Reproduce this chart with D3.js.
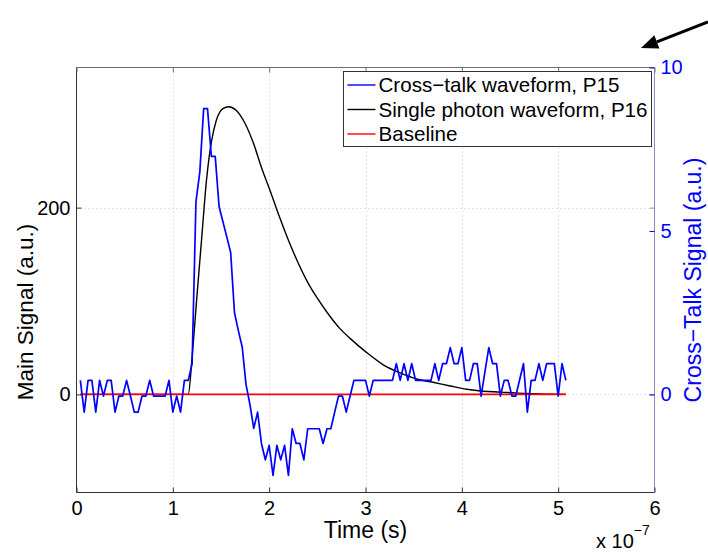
<!DOCTYPE html>
<html>
<head>
<meta charset="utf-8">
<script src="https://cdn.jsdelivr.net/npm/d3@7"></script>
<style>
  body { margin: 0; background: #fff; }
  svg { font-family: "Liberation Sans", Arial, Helvetica, sans-serif; }
</style>
</head>
<body>
<svg id="chart" width="708" height="556"></svg>
<script>
// ---- data (time in units of 1e-7 s) ----
const timeTicks = [0, 1, 2, 3, 4, 5, 6]
const mainTicks = [0, 200]
const crossTicks = [0, 5, 10]
const timeDomain = [0, 6]
const mainDomain = [-105, 350]
const crossDomain = [-3, 10]

// cross-talk waveform P15, sampled every 4 ns starting at 4 ns (right axis)
const crossStart = 0.04
const crossStep = 0.04
const crossTalk = [
  0.43, -0.54, 0.43, 0.43, -0.54, 0.43, -0.05, 0.43, 0.43, -0.54,
  -0.05, -0.05, 0.43, -0.05, -0.54, -0.54, -0.05, -0.05, 0.43, -0.05,
  -0.05, -0.05, -0.05, 0.43, -0.54, -0.05, -0.54, 0.43, 0.43, 0.94,
  5.9, 6.8, 8.74, 8.74, 7.28, 7.28, 5.75, 5.28, 4.82, 4.35,
  2.5, 1.95, 1.45, 0.3, -0.3, -1.04, -0.54, -1.5, -2.0, -1.56,
  -2.48, -1.56, -2.0, -1.56, -2.48, -1.05, -1.5, -1.5, -2.0, -1.05,
  -1.05, -1.05, -1.05, -1.5, -1.05, -1.05, -0.54, -0.05, -0.05, -0.54,
  -0.05, 0.43, 0.43, 0.43, 0.43, -0.05, 0.43, 0.43, 0.43, 0.43,
  0.43, 0.43, 0.94, 0.43, 0.94, 0.43, 0.94, 0.43, 0.43, 0.43,
  0.43, 0.43, 0.94, 0.43, 0.94, 0.94, 1.43, 0.94, 0.94, 1.43,
  0.43, 0.43, 0.94, 0.94, -0.05, 0.7, 1.43, 0.94, 0.94, -0.05,
  0.43, 0.43, -0.05, -0.05, 0.45, 0.94, -0.54, 0.43, 0.43, 0.94,
  0.43, 0.94, 0.94, 0.94, -0.05, 0.94, 0.43
]

// single photon waveform P16 (left axis)
const photonTime = [0.04, 1.16, 1.20, 1.25, 1.30, 1.35, 1.40, 1.45, 1.52, 1.58,
  1.66, 1.75, 1.84, 1.92, 2.01, 2.10, 2.20, 2.30, 2.40, 2.50,
  2.60, 2.73, 2.84, 3.01, 3.18, 3.36, 3.53, 3.70, 3.88, 4.05,
  4.22, 4.40, 4.57, 4.74, 4.98, 5.08]
const photonSignal = [0, 0, 40, 105, 168, 230, 270, 293, 306, 308,
  304, 290, 268, 243, 218, 192, 165, 141, 120, 103,
  88, 71, 60, 45, 32, 23, 16.5, 13, 9, 5.5,
  3.4, 2.5, 1.4, 0.7, 0.2, 0]

// baseline (left axis)
const baselineTime = [0.04, 5.08]
const baselineValue = [0, 0]

const legendLabels = ['Cross\u2212talk waveform, P15', 'Single photon waveform, P16', 'Baseline']
const legendColors = ['#0000ff', '#000000', '#ff0000']

// ---- layout ----
const svg = d3.select('#chart')
const plotLeft = 76.5, plotRight = 654.5, plotTop = 67.5, plotBottom = 492.5

const x = d3.scaleLinear().domain(timeDomain).range([plotLeft, plotRight])
const yMain = d3.scaleLinear().domain(mainDomain).range([plotBottom, plotTop])
const yCross = d3.scaleLinear().domain(crossDomain).range([plotBottom, plotTop])

// grid
svg.append('g').selectAll('line')
    .data(timeTicks.slice(1, -1))
    .enter().append('line')
    .attr('x1', d=>Math.round(x(d))+0.5).attr('x2', d=>Math.round(x(d))+0.5)
    .attr('y1', plotTop).attr('y2', plotBottom)
    .style('stroke', '#c8c8c8').style('stroke-dasharray', '1,3')
svg.append('g').selectAll('line')
    .data(mainTicks)
    .enter().append('line')
    .attr('x1', plotLeft).attr('x2', plotRight)
    .attr('y1', d=>Math.round(yMain(d))+0.5).attr('y2', d=>Math.round(yMain(d))+0.5)
    .style('stroke', '#c8c8c8').style('stroke-dasharray', '1,3')

// lines
const photonLine = d3.line()
    .x((d,i)=>x(photonTime[i]))
    .y(d=>yMain(d))
    .curve(d3.curveMonotoneX)
svg.append('path')
    .attr('d', photonLine(photonSignal))
    .style('fill', 'none').style('stroke', '#000').style('stroke-width', 1.4)

const baseLine = d3.line()
    .x((d,i)=>x(baselineTime[i]))
    .y(d=>yMain(d))
svg.append('path')
    .attr('d', baseLine(baselineValue))
    .style('fill', 'none').style('stroke', '#ff0000').style('stroke-width', 1.6)

const crossLine = d3.line()
    .x((d,i)=>x(crossStart + i*crossStep))
    .y(d=>yCross(d))
svg.append('path')
    .attr('d', crossLine(crossTalk))
    .style('fill', 'none').style('stroke', '#0000ff').style('stroke-width', 1.7)
    .style('stroke-linejoin', 'round')

// axes box
svg.append('line').attr('x1', plotLeft).attr('x2', plotRight).attr('y1', plotTop).attr('y2', plotTop)
    .style('stroke', '#6e6e6e')
svg.append('line').attr('x1', plotLeft).attr('x2', plotRight).attr('y1', plotBottom).attr('y2', plotBottom)
    .style('stroke', '#333')
svg.append('line').attr('x1', plotLeft).attr('x2', plotLeft).attr('y1', plotTop).attr('y2', plotBottom)
    .style('stroke', '#333')
svg.append('line').attr('x1', plotRight).attr('x2', plotRight).attr('y1', plotTop).attr('y2', plotBottom)
    .style('stroke', '#8a8ac8')

// x axis
const xAxis = d3.axisBottom(x).tickValues(timeTicks).tickSize(-5).tickPadding(8).tickFormat(d3.format('d'))
const gx = svg.append('g').attr('transform', `translate(0,${plotBottom})`).call(xAxis)
gx.select('.domain').remove()
gx.selectAll('line').style('stroke', '#333')
gx.selectAll('text').style('font-size', '20px').style('fill', '#000')

const xTop = d3.axisTop(x).tickValues(timeTicks).tickSize(-5).tickFormat('')
const gxt = svg.append('g').attr('transform', `translate(0,${plotTop})`).call(xTop)
gxt.select('.domain').remove()
gxt.selectAll('line').style('stroke', '#6e6e6e')

// left axis
const yAxis = d3.axisLeft(yMain).tickValues(mainTicks).tickSize(-5).tickPadding(6)
const gy = svg.append('g').attr('transform', `translate(${plotLeft},0)`).call(yAxis)
gy.select('.domain').remove()
gy.selectAll('line').style('stroke', '#333')
gy.selectAll('text').style('font-size', '20px').style('fill', '#000')

// mirrored left ticks on right side
const yMirror = d3.axisRight(yMain).tickValues(mainTicks).tickSize(-5).tickFormat('')
const gym = svg.append('g').attr('transform', `translate(${plotRight},0)`).call(yMirror)
gym.select('.domain').remove()
gym.selectAll('line').style('stroke', '#999')

// right axis
const yRight = d3.axisRight(yCross).tickValues(crossTicks).tickSize(-5).tickPadding(6)
const gyr = svg.append('g').attr('transform', `translate(${plotRight},0)`).call(yRight)
gyr.select('.domain').remove()
gyr.selectAll('line').style('stroke', '#0000ff')
gyr.selectAll('text').style('font-size', '20px').style('fill', '#0000ff')

// axis labels
svg.append('text')
    .attr('x', x(3)).attr('y', 538)
    .attr('text-anchor', 'middle')
    .style('font-size', '23px')
    .text('Time (s)')

const expo = svg.append('text')
    .attr('x', 596).attr('y', 548)
    .style('font-size', '20px')
expo.append('tspan').text('x 10')
expo.append('tspan').attr('dy', -13).style('font-size', '14px').text('\u22127')

svg.append('text')
    .attr('transform', 'translate(33,312) rotate(-90)')
    .attr('text-anchor', 'middle')
    .style('font-size', '22.5px')
    .text('Main Signal (a.u.)')

svg.append('text')
    .attr('transform', `translate(701,${(plotTop+plotBottom)/2}) rotate(-90)`)
    .attr('text-anchor', 'middle')
    .style('font-size', '23px')
    .style('fill', '#0000ff')
    .text('Cross\u2212Talk Signal (a.u.)')

// legend
const legend = svg.append('g').attr('transform', 'translate(343.5,71.5)')
legend.append('rect')
    .attr('width', 308).attr('height', 75)
    .style('fill', '#fff').style('stroke', '#333')
const rows = legend.selectAll('.legend-row')
    .data(legendLabels)
    .enter().append('g')
    .attr('class', 'legend-row')
    .attr('transform', (d,i)=>`translate(0,${13.5 + i*24.5})`)
rows.append('line')
    .attr('x1', 4).attr('x2', 32)
    .style('stroke', (d,i)=>legendColors[i]).style('stroke-width', 1.4)
rows.append('text')
    .attr('x', 35).attr('y', 7)
    .style('font-size', '20.6px')
    .text(d=>d)

// annotation arrow
const arrowFrom = [708, 22], arrowTip = [641, 48]
const ang = Math.atan2(arrowTip[1]-arrowFrom[1], arrowTip[0]-arrowFrom[0])
const headLen = 17, headW = 7
const base = [arrowTip[0]-headLen*Math.cos(ang), arrowTip[1]-headLen*Math.sin(ang)]
svg.append('line')
    .attr('x1', arrowFrom[0]).attr('y1', arrowFrom[1])
    .attr('x2', base[0]).attr('y2', base[1])
    .style('stroke', '#000').style('stroke-width', 3)
svg.append('polygon')
    .attr('points', [
        arrowTip,
        [base[0]+headW*Math.sin(ang), base[1]-headW*Math.cos(ang)],
        [base[0]-headW*Math.sin(ang), base[1]+headW*Math.cos(ang)]
    ].map(p=>p.join(',')).join(' '))
    .style('fill', '#000')
</script>
</body>
</html>
